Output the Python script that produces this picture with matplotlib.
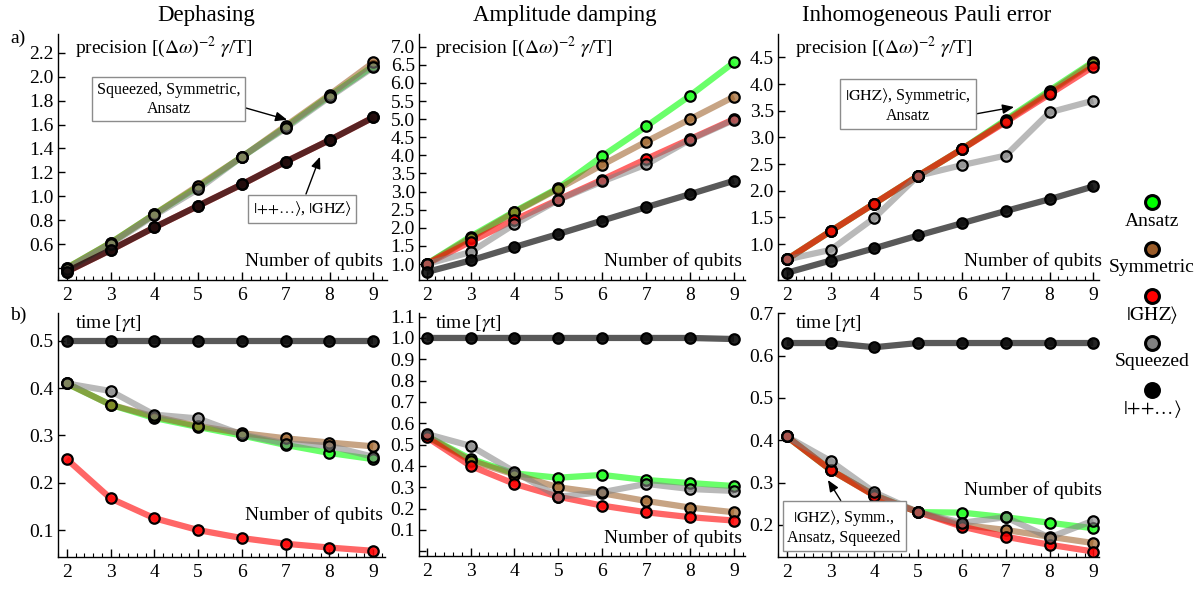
import matplotlib
matplotlib.use("Agg")
import matplotlib.pyplot as plt
from matplotlib.ticker import MultipleLocator

plt.rcParams['font.family'] = ['Liberation Serif', 'DejaVu Serif']
plt.rcParams['mathtext.fontset'] = 'stix'

n = [2, 3, 4, 5, 6, 7, 8, 9]
names = ["Ansatz", "Symmetric", r"$|\mathrm{GHZ}\rangle$", "Squeezed", r"$|{+}{+}\ldots\rangle$"]

# precision, dephasing
deph_ansatz = [0.40, 0.61, 0.85, 1.08, 1.33, 1.58, 1.84, 2.09]
deph_sym = [0.40, 0.61, 0.85, 1.09, 1.33, 1.59, 1.85, 2.12]
deph_ghz = [0.37, 0.55, 0.74, 0.92, 1.10, 1.29, 1.47, 1.66]
deph_sq = [0.39, 0.60, 0.84, 1.06, 1.33, 1.57, 1.83, 2.08]
deph_plus = [0.37, 0.55, 0.74, 0.92, 1.10, 1.29, 1.47, 1.66]

# precision, amplitude damping
ad_ansatz = [1.00, 1.76, 2.45, 3.10, 3.98, 4.80, 5.65, 6.57]
ad_sym = [1.00, 1.72, 2.43, 3.08, 3.74, 4.38, 5.00, 5.62]
ad_ghz = [1.00, 1.62, 2.22, 2.78, 3.33, 3.90, 4.45, 5.00]
ad_sq = [1.00, 1.33, 2.10, 2.77, 3.28, 3.75, 4.43, 4.98]
ad_plus = [0.78, 1.10, 1.47, 1.83, 2.20, 2.57, 2.93, 3.30]

# precision, inhomogeneous pauli
ip_ansatz = [0.71, 1.24, 1.76, 2.28, 2.78, 3.33, 3.88, 4.42]
ip_sym = [0.71, 1.24, 1.76, 2.28, 2.78, 3.31, 3.85, 4.40]
ip_ghz = [0.71, 1.24, 1.76, 2.28, 2.78, 3.29, 3.81, 4.33]
ip_sq = [0.71, 0.89, 1.49, 2.28, 2.48, 2.66, 3.47, 3.69]
ip_plus = [0.46, 0.69, 0.92, 1.16, 1.39, 1.62, 1.84, 2.08]

# optimal time, dephasing
td_ansatz = [0.41, 0.365, 0.337, 0.318, 0.300, 0.280, 0.263, 0.250]
td_sym = [0.41, 0.365, 0.340, 0.320, 0.305, 0.294, 0.285, 0.277]
td_ghz = [0.25, 0.167, 0.125, 0.100, 0.083, 0.071, 0.063, 0.056]
td_sq = [0.41, 0.394, 0.344, 0.336, 0.302, 0.283, 0.278, 0.255]
td_plus = [0.50, 0.50, 0.50, 0.50, 0.50, 0.50, 0.50, 0.50]

# optimal time, amplitude damping
ta_ansatz = [0.54, 0.433, 0.365, 0.345, 0.358, 0.334, 0.320, 0.306]
ta_sym = [0.54, 0.425, 0.360, 0.300, 0.272, 0.236, 0.205, 0.183]
ta_ghz = [0.535, 0.400, 0.316, 0.256, 0.214, 0.183, 0.160, 0.144]
ta_sq = [0.55, 0.494, 0.373, 0.256, 0.277, 0.316, 0.292, 0.283]
ta_plus = [1.0, 1.0, 1.0, 1.0, 1.0, 1.0, 1.0, 0.995]

# optimal time, inhomogeneous pauli
ti_ansatz = [0.409, 0.330, 0.270, 0.230, 0.229, 0.218, 0.205, 0.192]
ti_sym = [0.409, 0.330, 0.270, 0.230, 0.200, 0.188, 0.172, 0.157]
ti_ghz = [0.409, 0.330, 0.269, 0.230, 0.196, 0.172, 0.153, 0.137]
ti_sq = [0.409, 0.351, 0.277, 0.230, 0.205, 0.218, 0.170, 0.210]
ti_plus = [0.63, 0.63, 0.62, 0.63, 0.63, 0.63, 0.63, 0.63]

line_cols = [(0.1, 1.0, 0.1, 0.65), (0.6, 0.35, 0.12, 0.55), (1.0, 0.0, 0.0, 0.6),
             (0.5, 0.5, 0.5, 0.55), (0.0, 0.0, 0.0, 0.65)]
face_cols = [(0.15, 1.0, 0.15, 0.85), (0.62, 0.38, 0.15, 0.7), (1.0, 0.0, 0.0, 0.85),
             (0.5, 0.5, 0.5, 0.6), (0.05, 0.05, 0.05, 0.9)]
legend_cols = ["#00ff00", "#9a5b28", "#ff0000", "#808080", "#000000"]

W, H = 1199, 592
fig = plt.figure(figsize=(W / 100, H / 100), dpi=100)


def fx(x):
    return x / W


def fy(y):
    return 1 - y / H


def make_ax(l, r, t, b):
    return fig.add_axes([fx(l), fy(b), (r - l) / W, (b - t) / H])


panels = [
    dict(box=(58, 387, 34, 280), series=[deph_ansatz, deph_sym, deph_ghz, deph_sq, deph_plus],
         xlim=(1.80, 9.31), ylim=(0.30, 2.357), yt=[0.4, 0.6, 0.8, 1.0, 1.2, 1.4, 1.6, 1.8, 2.0, 2.2], fmt="%.1f"),
    dict(box=(419, 745, 34, 280), series=[ad_ansatz, ad_sym, ad_ghz, ad_sq, ad_plus],
         xlim=(1.825, 9.25), ylim=(0.56, 7.35), yt=[1.0, 1.5, 2.0, 2.5, 3.0, 3.5, 4.0, 4.5, 5.0, 5.5, 6.0, 6.5, 7.0], fmt="%.1f"),
    dict(box=(778, 1099, 34, 280), series=[ip_ansatz, ip_sym, ip_ghz, ip_sq, ip_plus],
         xlim=(1.80, 9.13), ylim=(0.325, 4.94), yt=[1.0, 1.5, 2.0, 2.5, 3.0, 3.5, 4.0, 4.5], fmt="%.1f"),
    dict(box=(58, 385, 313, 557), series=[td_ansatz, td_sym, td_ghz, td_sq, td_plus],
         xlim=(1.80, 9.27), ylim=(0.043, 0.559), yt=[0.1, 0.2, 0.3, 0.4, 0.5], fmt="%.1f"),
    dict(box=(419, 745, 313, 556), series=[ta_ansatz, ta_sym, ta_ghz, ta_sq, ta_plus],
         xlim=(1.825, 9.25), ylim=(-0.022, 1.117), yt=[0.0, 0.1, 0.2, 0.3, 0.4, 0.5, 0.6, 0.7, 0.8, 0.9, 1.0, 1.1], fmt="%.1f"),
    dict(box=(778, 1099, 313, 557), series=[ti_ansatz, ti_sym, ti_ghz, ti_sq, ti_plus],
         xlim=(1.80, 9.13), ylim=(0.124, 0.701), yt=[0.2, 0.3, 0.4, 0.5, 0.6, 0.7], fmt="%.1f"),
]

axes = []
for i, p in enumerate(panels):
    ax = make_ax(*p["box"])
    axes.append(ax)
    for k, s in enumerate(p["series"]):
        ax.plot(n, s, color=line_cols[k], lw=4.5, solid_capstyle='butt', zorder=2 + k * 0.1)
    for k, s in enumerate(p["series"]):
        ax.plot(n, s, ls='none', marker='o', ms=7.5, mfc=face_cols[k], mec='black', mew=1.6, zorder=3 + k * 0.1)
    ax.set_xlim(*p["xlim"])
    ax.set_ylim(*p["ylim"])
    ax.spines['top'].set_visible(False)
    ax.spines['right'].set_visible(False)
    ax.spines['left'].set_linewidth(1.0)
    ax.spines['bottom'].set_linewidth(1.0)
    ax.set_xticks(n)
    ax.xaxis.set_minor_locator(MultipleLocator(0.2))
    labels = [p["fmt"] % v for v in p["yt"]]
    if i in (0, 4):
        labels[0] = ""
    ax.set_yticks(p["yt"])
    ax.set_yticklabels(labels)
    ax.tick_params(axis='x', which='major', direction='in', length=6, width=1, labelsize=14, pad=5)
    ax.tick_params(axis='x', which='minor', direction='in', length=3, width=0.8)
    ax.tick_params(axis='y', which='major', direction='in', length=5, width=1, labelsize=14, pad=3)
    ax.patch.set_alpha(0)

# axis captions
for x in (75, 435, 795):
    fig.text(fx(x), fy(47), r"precision [($\Delta\omega$)$^{-2}$ $\gamma$/T]", fontsize=14, va='center', ha='left')
    fig.text(fx(x), fy(323), r"time [$\gamma$t]", fontsize=14, va='center', ha='left')
for x, y in [(383, 261), (742, 261), (1102, 261), (383, 515), (742, 538), (1102, 490)]:
    fig.text(fx(x), fy(y), "Number of qubits", fontsize=14, va='center', ha='right')

for x, t in [(206, "Dephasing"), (565, "Amplitude damping"), (927, "Inhomogeneous Pauli error")]:
    fig.text(fx(x), fy(15), t, fontsize=16.5, va='center', ha='center')
fig.text(fx(10), fy(38), "a)", fontsize=14, va='center', ha='left')
fig.text(fx(10), fy(315), "b)", fontsize=14, va='center', ha='left')

# boxed annotations
bbox = dict(boxstyle='square,pad=0.3', fc='white', ec='#8c8c8c', lw=1)
arrow = dict(arrowstyle='-|>,head_length=0.6,head_width=0.25', color='black', lw=1, shrinkA=0, shrinkB=0)
notes = [
    (0, "Squeezed, Symmetric,\nAnsatz", (7.03, 1.64), (4.33, 1.81), (0.97, 0.33)),
    (0, r"$|{+}{+}\ldots\rangle$, $|\mathrm{GHZ}\rangle$", (7.78, 1.33), (7.37, 0.895), (0.52, 1.0)),
    (2, "$|\\mathrm{GHZ}\\rangle$, Symmetric,\nAnsatz", (7.19, 3.57), (4.77, 3.61), (0.81, 0.13)),
    (5, "$|\\mathrm{GHZ}\\rangle$, Symm.,\nAnsatz, Squeezed", (2.94, 0.306), (3.31, 0.195), (0.51, 1.0)),
]
for i, txt, tip, pos, rel in notes:
    a = dict(arrow)
    a['relpos'] = rel
    axes[i].annotate(txt, xy=tip, xytext=pos, fontsize=11.5, ha='center', va='center',
                     bbox=bbox, arrowprops=a, multialignment='center', zorder=10)

# legend column on the right
lax = fig.add_axes([0, 0, 1, 1])
lax.set_xlim(0, W)
lax.set_ylim(H, 0)
lax.axis('off')
leg_y = [202, 249, 296, 343, 390]
for k in range(5):
    lax.plot([1152], [leg_y[k]], marker='o', ms=10, mfc=legend_cols[k], mec='black', mew=2.2, ls='none')
    lax.text(1152, leg_y[k] + 19, names[k], fontsize=14, ha='center', va='center')

fig.savefig("out.png", dpi=100)
